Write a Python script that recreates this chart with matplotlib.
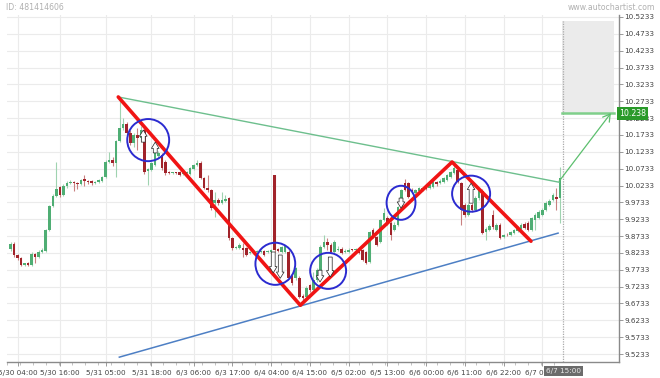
import matplotlib
matplotlib.use("Agg")
import matplotlib.pyplot as plt
from matplotlib.patches import Ellipse
import numpy as np

# ---------------- data (hourly candles, index 0 = 5/30 02:00) ----------------
opens = [9.834, 9.849, 9.817, 9.808, 9.787, 9.793, 9.787, 9.820, 9.811, 9.826,
         9.829, 9.891, 9.962, 9.992, 10.019, 9.995, 10.022, 10.030, 10.033, 10.030,
         10.027, 10.042, 10.036, 10.036, 10.030, 10.033, 10.036, 10.048, 10.093, 10.099,
         10.090, 10.155, 10.194, 10.206, 10.179, 10.149, 10.173, 10.164, 10.188, 10.066,
         10.069, 10.084, 10.111, 10.114, 10.093, 10.063, 10.061, 10.062, 10.063, 10.057,
         10.060, 10.057, 10.072, 10.084, 10.090, 10.045, 10.016, 10.010, 9.971, 9.980,
         9.971, 9.977, 9.986, 9.867, 9.837, 9.837, 9.837, 9.837, 9.823, 9.823,
         9.826, 9.826, 9.829, 9.826, 9.826, 10.054, 9.834, 9.826, 9.826, 9.826,
         9.754, 9.748, 9.748, 9.695, 9.692, 9.727, 9.713, 9.742, 9.766, 9.840,
         9.855, 9.846, 9.826, 9.832, 9.834, 9.826, 9.826, 9.832, 9.831, 9.832,
         9.832, 9.826, 9.796, 9.891, 9.870, 9.855, 9.921, 9.927, 9.912, 9.891,
         9.906, 9.959, 10.030, 10.030, 10.010, 10.001, 10.007, 10.010, 10.022, 10.016,
         10.019, 10.033, 10.030, 10.033, 10.039, 10.048, 10.060, 10.069, 10.030, 9.965,
         9.935, 9.965, 9.950, 9.986, 10.007, 9.885, 9.891, 9.935, 9.891, 9.906,
         9.870, 9.879, 9.876, 9.882, 9.888, 9.894, 9.909, 9.912, 9.891, 9.921,
         9.927, 9.935, 9.950, 9.965, 9.980, 9.989, 9.986]
highs = [9.855, 9.855, 9.820, 9.811, 9.793, 9.796, 9.826, 9.823, 9.832, 9.837,
         9.894, 9.965, 9.998, 10.093, 10.022, 10.027, 10.036, 10.039, 10.036, 10.033,
         10.042, 10.054, 10.039, 10.039, 10.036, 10.042, 10.051, 10.099, 10.123, 10.108,
         10.158, 10.286, 10.224, 10.212, 10.188, 10.179, 10.194, 10.200, 10.194, 10.075,
         10.093, 10.123, 10.126, 10.120, 10.099, 10.066, 10.064, 10.064, 10.066, 10.063,
         10.066, 10.078, 10.087, 10.099, 10.096, 10.048, 10.054, 10.013, 10.004, 9.986,
         10.004, 9.995, 9.989, 9.870, 9.843, 9.852, 9.852, 9.840, 9.829, 9.832,
         9.832, 9.832, 9.832, 9.832, 9.834, 10.054, 9.837, 9.843, 9.846, 9.832,
         9.760, 9.781, 9.754, 9.701, 9.724, 9.730, 9.766, 9.778, 9.846, 9.876,
         9.867, 9.852, 9.861, 9.843, 9.840, 9.834, 9.837, 9.835, 9.837, 9.834,
         9.834, 9.829, 9.888, 9.897, 9.873, 9.924, 9.956, 9.933, 9.918, 9.915,
         9.962, 10.013, 10.042, 10.033, 10.016, 10.013, 10.019, 10.019, 10.024, 10.027,
         10.036, 10.036, 10.042, 10.048, 10.057, 10.066, 10.084, 10.075, 10.033, 9.971,
         9.971, 9.971, 9.992, 10.016, 10.013, 9.900, 9.909, 9.950, 9.912, 9.912,
         9.879, 9.882, 9.888, 9.894, 9.903, 9.912, 9.915, 9.918, 9.930, 9.941,
         9.950, 9.956, 9.977, 9.983, 10.001, 10.016, 10.078]
lows = [9.829, 9.811, 9.802, 9.784, 9.784, 9.784, 9.784, 9.793, 9.808, 9.823,
        9.826, 9.888, 9.959, 9.989, 9.989, 9.992, 10.016, 10.027, 10.007, 10.013,
        10.024, 10.022, 10.027, 10.024, 10.027, 10.030, 10.033, 10.045, 10.090, 10.081,
        10.048, 10.152, 10.188, 10.173, 10.143, 10.137, 10.128, 10.158, 10.057, 10.024,
        10.066, 10.081, 10.105, 10.069, 10.054, 10.057, 10.058, 10.057, 10.051, 10.054,
        10.057, 10.054, 10.069, 10.081, 10.042, 10.013, 10.004, 9.950, 9.930, 9.965,
        9.968, 9.974, 9.861, 9.832, 9.834, 9.834, 9.811, 9.814, 9.820, 9.820,
        9.823, 9.823, 9.814, 9.823, 9.823, 9.826, 9.826, 9.823, 9.823, 9.745,
        9.727, 9.742, 9.689, 9.683, 9.689, 9.707, 9.710, 9.736, 9.763, 9.837,
        9.832, 9.823, 9.823, 9.829, 9.820, 9.823, 9.823, 9.829, 9.829, 9.820,
        9.799, 9.790, 9.793, 9.867, 9.843, 9.852, 9.918, 9.906, 9.861, 9.888,
        9.903, 9.956, 10.007, 9.986, 10.004, 9.998, 10.004, 10.007, 10.010, 10.013,
        10.016, 10.022, 10.027, 10.030, 10.036, 10.045, 10.057, 10.030, 9.906, 9.930,
        9.933, 9.944, 9.947, 9.980, 9.879, 9.861, 9.888, 9.894, 9.888, 9.864,
        9.867, 9.873, 9.873, 9.879, 9.885, 9.891, 9.894, 9.888, 9.888, 9.891,
        9.924, 9.933, 9.947, 9.962, 9.977, 9.950, 9.912]
closes = [9.849, 9.817, 9.808, 9.787, 9.793, 9.787, 9.820, 9.811, 9.826, 9.832,
          9.891, 9.962, 9.992, 10.013, 9.995, 10.022, 10.030, 10.033, 10.030, 10.027,
          10.039, 10.036, 10.033, 10.030, 10.033, 10.039, 10.048, 10.093, 10.099, 10.090,
          10.155, 10.194, 10.206, 10.179, 10.149, 10.173, 10.164, 10.188, 10.063, 10.072,
          10.090, 10.120, 10.120, 10.075, 10.060, 10.061, 10.062, 10.060, 10.054, 10.060,
          10.063, 10.075, 10.084, 10.090, 10.045, 10.016, 10.010, 9.956, 9.980, 9.971,
          9.980, 9.983, 9.867, 9.837, 9.840, 9.846, 9.832, 9.817, 9.826, 9.829,
          9.829, 9.829, 9.817, 9.829, 9.832, 9.832, 9.829, 9.840, 9.843, 9.748,
          9.733, 9.778, 9.692, 9.689, 9.719, 9.713, 9.742, 9.772, 9.840, 9.855,
          9.846, 9.826, 9.855, 9.834, 9.823, 9.829, 9.832, 9.831, 9.834, 9.823,
          9.802, 9.793, 9.885, 9.870, 9.846, 9.921, 9.941, 9.912, 9.876, 9.906,
          9.959, 10.010, 10.010, 9.989, 10.007, 10.010, 10.016, 10.016, 10.013, 10.024,
          10.033, 10.027, 10.036, 10.045, 10.054, 10.063, 10.075, 10.033, 9.950, 9.935,
          9.965, 9.950, 9.986, 10.010, 9.882, 9.894, 9.903, 9.900, 9.906, 9.867,
          9.876, 9.878, 9.885, 9.891, 9.897, 9.906, 9.897, 9.891, 9.927, 9.935,
          9.944, 9.950, 9.971, 9.977, 9.995, 9.983, 10.045]

tick_pos = [2, 14, 27, 40, 52, 63, 74, 85, 96, 107, 118, 129, 140, 151]
tick_labels = ["5/30 04:00", "5/30 16:00", "5/31 05:00", "5/31 18:00", "6/3 06:00",
               "6/3 17:00", "6/4 04:00", "6/4 15:00", "6/5 02:00", "6/5 13:00",
               "6/6 00:00", "6/6 11:00", "6/6 22:00", "6/7 09:00"]
now_pos = 157
now_label = "6/7 15:00"

y_ticks = [9.5233 + 0.05 * k for k in range(21)]

# pattern drawing (bar index, price)
zigzag_x = [30.6, 82.3, 125.4, 147.8]
zigzag_y = [10.286, 9.668, 10.093, 9.858]
upper_x = [30.6, 155.8]
upper_y = [10.286, 10.033]
lower_x = [30.9, 155.5]
lower_y = [9.514, 9.882]
target_price = 10.238
target_x = [156.6, 171.3]
forecast_from = (155.8, 10.036)
forecast_to = (170.5, 10.238)
zone_top = 10.512

circles_x = [39.1, 75.2, 90.2, 110.9, 130.8]
circles_y = [10.158, 9.791, 9.770, 9.972, 9.999]
circles_w = [11.9, 11.3, 10.2, 8.2, 10.8]
circles_h = [0.125, 0.125, 0.107, 0.101, 0.107]

arrows_x = [37.7, 41.1, 74.6, 76.6, 87.9, 90.8, 110.9, 130.8]
arrows_from = [10.152, 10.120, 9.826, 9.817, 9.772, 9.811, 9.986, 9.971]
arrows_to = [10.188, 10.152, 9.764, 9.748, 9.737, 9.752, 9.956, 10.030]

# ---------------- figure ----------------
W, H = 660, 378
fig = plt.figure(figsize=(W / 100, H / 100), dpi=100)
L, R, T, B = 7, 619, 15, 362
ax = fig.add_axes([L / W, 1 - B / H, (R - L) / W, (B - T) / H])

ax.set_xlim(-0.85, 172.8)
ax.set_ylim(9.4996, 10.5292)

for s in ["left", "top"]:
    ax.spines[s].set_visible(False)
for s in ["right", "bottom"]:
    ax.spines[s].set_color("#8a8a8a")
    ax.spines[s].set_linewidth(1.0)

ax.yaxis.tick_right()
ax.set_yticks(y_ticks)
ax.set_yticklabels([f"{v:.4f}" for v in y_ticks])
ax.set_xticks(tick_pos)
ax.set_xticklabels(tick_labels)
ax.set_xticks(np.arange(-1, 157, 3.7), minor=True)
ax.tick_params(axis="y", which="both", length=3, width=0.6, color="#8a8a8a",
               labelsize=5.2, labelcolor="#444444", pad=1)
ax.tick_params(axis="x", which="major", length=3, width=0.6, color="#8a8a8a",
               labelsize=5.2, labelcolor="#444444", pad=3)
ax.tick_params(axis="x", which="minor", length=2, width=0.5, color="#aaaaaa")
ax.grid(True, which="major", color="#ebebeb", lw=0.8)
ax.set_axisbelow(True)

# forecast zone
ax.fill_between(target_x, [target_price] * 2, [zone_top] * 2, color="#ebebeb",
                lw=0, zorder=1)
ax.vlines(now_pos, ax.get_ylim()[0], zone_top, colors="#aaaaaa", linestyles=(0, (1, 1)),
          lw=0.9, zorder=1.5)

# candles
o = np.array(opens); h = np.array(highs); l = np.array(lows); c = np.array(closes)
idx = np.arange(len(o))
up = c >= o
g_body, g_wick = "#4fae74", "#9fd3b0"
r_body, r_wick = "#a1232a", "#c98080"
ax.vlines(idx[up], l[up], h[up], colors=g_wick, lw=0.8, zorder=2)
ax.vlines(idx[~up], l[~up], h[~up], colors=r_wick, lw=0.8, zorder=2)
body_lo = np.minimum(o, c)
body_h = np.maximum(np.abs(c - o), 0.0025)
ax.bar(idx[up], body_h[up], bottom=body_lo[up], width=0.72, color=g_body, lw=0, zorder=3)
ax.bar(idx[~up], body_h[~up], bottom=body_lo[~up], width=0.72, color=r_body, lw=0, zorder=3)

# pattern lines
ax.plot(upper_x, upper_y, color="#6dbf8d", lw=1.0, zorder=4)
ax.plot(lower_x, lower_y, color="#4d7fc4", lw=1.1, zorder=4)
ax.plot(zigzag_x, zigzag_y, color="#f01414", lw=2.6, zorder=5, solid_capstyle="round")

for cx, cy, cw, ch in zip(circles_x, circles_y, circles_w, circles_h):
    ax.add_patch(Ellipse((cx, cy), cw, ch, fill=False, ec="#2b2bd0",
                         lw=1.4, zorder=6))

for axx, a0, a1 in zip(arrows_x, arrows_from, arrows_to):
    ax.annotate("", xy=(axx, a1), xytext=(axx, a0),
                arrowprops=dict(arrowstyle="simple,head_length=0.45,head_width=0.55,tail_width=0.28",
                                fc="white", ec="#222222", lw=0.5, shrinkA=0, shrinkB=0,
                                mutation_scale=10), zorder=7)

# forecast arrow and target line
ax.plot(target_x, [target_price] * 2, color="#7fcf8a", lw=1.8, zorder=4)
ax.annotate("", xy=forecast_to, xytext=forecast_from,
            arrowprops=dict(arrowstyle="->,head_length=0.5,head_width=0.3", color="#5cbf6e",
                            lw=0.9, shrinkA=0, shrinkB=0), zorder=6)

# target label on axis
ax.text(1.0, target_price, f"{target_price:.3f}", transform=ax.get_yaxis_transform(),
        ha="left", va="center", fontsize=5.6, color="white", zorder=10, clip_on=False,
        bbox=dict(boxstyle="square,pad=0.25", fc="#2a9a2a", ec="none"))

# current time label
ax.text(now_pos, -0.026, now_label, transform=ax.get_xaxis_transform(), ha="center",
        va="center", fontsize=5.2, color="#e8e8e8", zorder=10, clip_on=False,
        bbox=dict(boxstyle="square,pad=0.3", fc="#6b6b6b", ec="none"))

fig.text(6 / W, 1 - 7 / H, "ID: 481414606", fontsize=5.6, color="#b0b0b0", va="center")
fig.text(655 / W, 1 - 7 / H, "www.autochartist.com", fontsize=5.6, color="#b0b0b0",
         va="center", ha="right")

fig.savefig("out.png", dpi=100)
